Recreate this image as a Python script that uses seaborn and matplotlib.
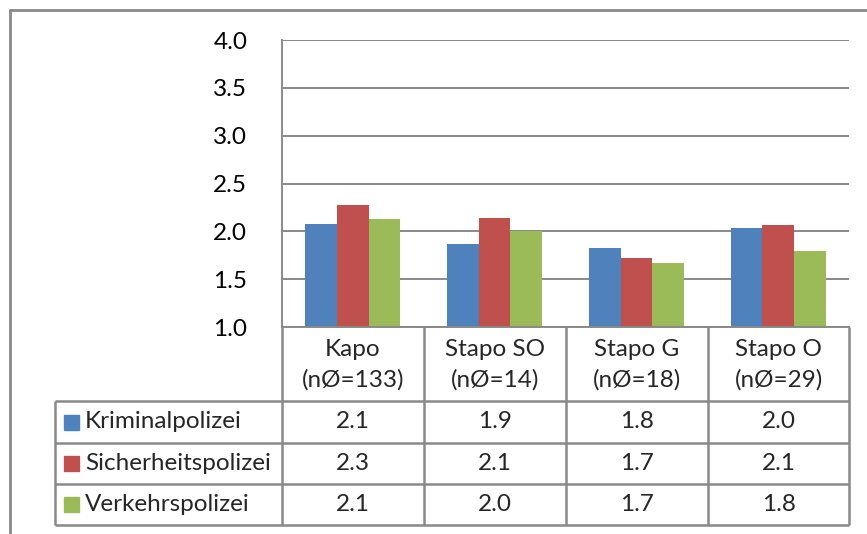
import pandas as pd
import matplotlib
matplotlib.use("Agg")
import matplotlib.pyplot as plt
import seaborn as sns
from matplotlib.patches import Rectangle
from matplotlib.ticker import FormatStrFormatter

categories = ["Kapo\n(nØ=133)", "Stapo SO\n(nØ=14)", "Stapo G\n(nØ=18)", "Stapo O\n(nØ=29)"]
series = ["Kriminalpolizei", "Sicherheitspolizei", "Verkehrspolizei"]
kriminal = [2.08, 1.87, 1.83, 2.03]
sicherheit = [2.28, 2.14, 1.72, 2.07]
verkehr = [2.13, 2.00, 1.67, 1.79]
y_ticks = [1.0, 1.5, 2.0, 2.5, 3.0, 3.5, 4.0]
colors = ["#4F81BD", "#C0504D", "#9BBB59"]

df = pd.DataFrame({
    "Gruppe": categories * 3,
    "Dienst": [s for s in series for _ in categories],
    "Wert": kriminal + sicherheit + verkehr,
})

sns.set_style("white")
plt.rcParams["font.family"] = ["Lato", "DejaVu Sans"]
FS = 17.5
LINE = "#898989"
W, H = 867, 534

fig = plt.figure(figsize=(W / 100, H / 100), dpi=100)


def box(x0, y0, x1, y1):
    # pixel box (top-left origin) -> figure fraction
    return [x0 / W, 1 - y1 / H, (x1 - x0) / W, (y1 - y0) / H]


ax = fig.add_axes(box(282, 40, 849, 327))
sns.barplot(data=df, x="Gruppe", y="Wert", hue="Dienst", hue_order=series,
            palette=colors, saturation=1, width=0.67, gap=0, linewidth=0,
            legend=False, errorbar=None, ax=ax)
ax.set_ylim(1, 4)
ax.set_yticks(y_ticks)
ax.yaxis.set_major_formatter(FormatStrFormatter("%.1f"))
ax.set_xticks([])
ax.set_xlabel("")
ax.set_ylabel("")
ax.set_axisbelow(True)
ax.yaxis.grid(True, color=LINE, lw=1.4)
ax.tick_params(axis="y", length=0, pad=25, labelsize=FS, labelcolor="black")
for side in ["top", "right"]:
    ax.spines[side].set_visible(False)
for side in ["left", "bottom"]:
    ax.spines[side].set_color(LINE)
    ax.spines[side].set_linewidth(1.4)

# data table below the plot
tab = fig.add_axes([0, 0, 1, 1])
tab.set_xlim(0, W)
tab.set_ylim(H, 0)
tab.axis("off")

col_x = [282, 424, 566, 708, 849]
row_y = [327, 401, 443, 484, 525]
lw = 1.8

for x in col_x:
    tab.plot([x, x], [row_y[0], row_y[-1]], color=LINE, lw=lw, solid_capstyle="butt")
tab.plot([55, 55], [row_y[1], row_y[-1]], color=LINE, lw=lw, solid_capstyle="butt")
for y in row_y[1:]:
    tab.plot([55, col_x[-1]], [y, y], color=LINE, lw=lw, solid_capstyle="butt")

for i, cat in enumerate(categories):
    xc = (col_x[i] + col_x[i + 1]) / 2
    tab.text(xc, (row_y[0] + row_y[1]) / 2 + 1, cat, ha="center", va="center",
             fontsize=FS, linespacing=1.5)

values = [kriminal, sicherheit, verkehr]
for r, (name, vals, c) in enumerate(zip(series, values, colors)):
    yc = (row_y[r + 1] + row_y[r + 2]) / 2
    tab.add_patch(Rectangle((64, yc - 7.5), 15, 15, color=c))
    tab.text(85, yc, name, ha="left", va="center", fontsize=FS)
    for i, v in enumerate(vals):
        xc = (col_x[i] + col_x[i + 1]) / 2
        tab.text(xc, yc, f"{v:.1f}", ha="center", va="center", fontsize=FS)

# chart area frame
tab.plot([10, 10], [H, 10], color=LINE, lw=2)
tab.plot([10, W], [10, 10], color=LINE, lw=2)

fig.savefig("out.png", dpi=100)
